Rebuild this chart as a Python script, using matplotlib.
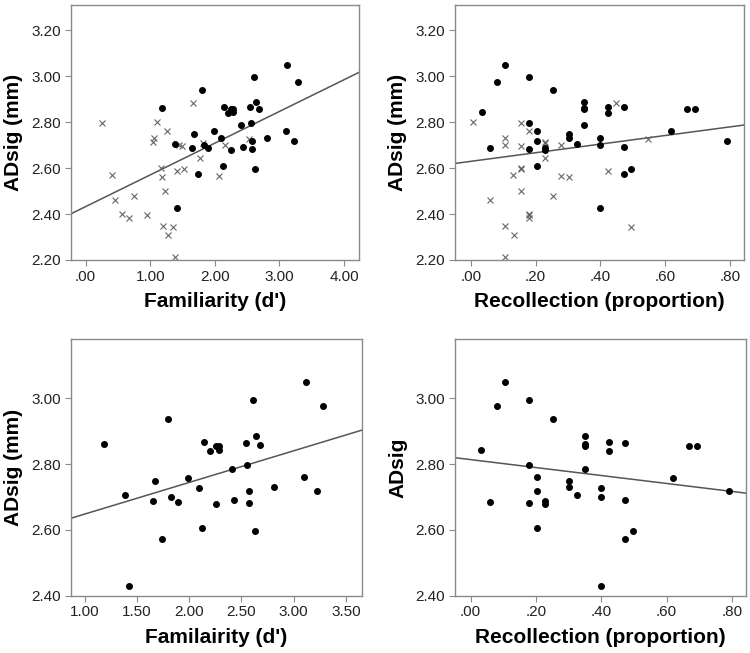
import numpy as np
import matplotlib
matplotlib.use('Agg')
import matplotlib.pyplot as plt

plt.rcParams['font.family'] = ['Liberation Sans', 'DejaVu Sans']

# dots group: familiarity d', recollection proportion, ADsig
fam_dot = [1.185, 1.386, 1.421, 1.65, 1.67, 1.735, 1.80, 1.83, 1.89, 1.99, 2.09,
           2.126, 2.145, 2.20, 2.256, 2.256, 2.288, 2.288, 2.405, 2.43, 2.547,
           2.553, 2.575, 2.572, 2.607, 2.626, 2.642, 2.677, 2.814, 3.098, 3.117,
           3.225, 3.283]
ads_dot_f = [2.86, 2.706, 2.428, 2.688, 2.750, 2.573, 2.939, 2.70, 2.686, 2.759,
             2.729, 2.607, 2.867, 2.839, 2.856, 2.679, 2.855, 2.842, 2.785, 2.692,
             2.864, 2.797, 2.719, 2.682, 2.996, 2.597, 2.886, 2.858, 2.732, 2.762,
             3.049, 2.719, 2.976]

rec_dot = [0.033, 0.058, 0.082, 0.106, 0.180, 0.180, 0.180, 0.204, 0.204, 0.204,
           0.229, 0.229, 0.253, 0.302, 0.302, 0.327, 0.35, 0.35, 0.35, 0.35, 0.40,
           0.40, 0.40, 0.424, 0.424, 0.472, 0.472, 0.472, 0.496, 0.619, 0.667,
           0.692, 0.791]
ads_dot_r = [2.842, 2.686, 2.976, 3.049, 2.996, 2.797, 2.682, 2.762, 2.719, 2.607,
             2.688, 2.679, 2.939, 2.750, 2.732, 2.706, 2.886, 2.860, 2.856, 2.785,
             2.729, 2.70, 2.428, 2.867, 2.839, 2.864, 2.692, 2.573, 2.597, 2.759,
             2.856, 2.856, 2.719]

# crosses group
fam_x = [0.247, 0.407, 0.448, 0.562, 0.665, 0.753, 0.954, 1.036, 1.052, 1.108,
         1.16, 1.19, 1.20, 1.227, 1.253, 1.268, 1.356, 1.376, 1.407, 1.448, 1.49,
         1.52, 1.655, 1.773, 1.809, 2.057, 2.155, 2.526]
ads_x_f = [2.794, 2.571, 2.459, 2.399, 2.384, 2.480, 2.397, 2.712, 2.729, 2.800,
           2.599, 2.559, 2.348, 2.501, 2.762, 2.307, 2.345, 2.214, 2.588, 2.701,
           2.697, 2.597, 2.881, 2.642, 2.710, 2.567, 2.701, 2.725]

rec_x = [0.008, 0.059, 0.107, 0.107, 0.107, 0.107, 0.131, 0.132, 0.155, 0.155,
         0.155, 0.155, 0.155, 0.179, 0.179, 0.179, 0.179, 0.229, 0.229, 0.229,
         0.254, 0.278, 0.278, 0.302, 0.424, 0.449, 0.496, 0.547]
ads_x_r = [2.799, 2.459, 2.729, 2.701, 2.348, 2.214, 2.571, 2.307, 2.794, 2.697,
           2.599, 2.597, 2.501, 2.762, 2.40, 2.397, 2.384, 2.712, 2.710, 2.642,
           2.480, 2.701, 2.567, 2.559, 2.588, 2.881, 2.345, 2.725]

# fit lines (intercept, slope)
fit_fam_all = (2.432, 0.138)
fit_rec_all = (2.629, 0.187)
fit_fam_dot = (2.552, 0.0963)
fit_rec_dot = (2.814, -0.121)

W, H = 750, 653
fig = plt.figure(figsize=(7.5, 6.53), dpi=100)


def make_ax(l, r, t, b):
    return fig.add_axes([l / W, 1 - b / H, (r - l) / W, (b - t) / H])


frame = '#8a8a8a'


def style(ax, xlim, ylim, xticks, xlabels, yticks, xlabel, ylabel):
    ax.set_xlim(*xlim)
    ax.set_ylim(*ylim)
    ax.set_xticks(xticks)
    ax.set_xticklabels(xlabels)
    ax.set_yticks(yticks)
    ax.set_yticklabels(['%.2f' % v for v in yticks])
    for s in ax.spines.values():
        s.set_color(frame)
        s.set_linewidth(1.0)
    ax.tick_params(direction='out', length=4, width=0.8, color=frame,
                   labelsize=11, labelcolor='#222222', pad=3)
    ax.set_xlabel(xlabel, fontsize=15, fontweight='bold', labelpad=6)
    ax.set_ylabel(ylabel, fontsize=15, fontweight='bold', labelpad=6)


def fit_line(ax, fit, xlim):
    xs = np.array(xlim)
    ax.plot(xs, fit[0] + fit[1] * xs, color='#555555', lw=1.1, zorder=1)


dot_kw = dict(marker='o', color='black', markersize=4, linestyle='none', zorder=3)
x_kw = dict(marker='x', color='#666666', markersize=4, mew=0.8, linestyle='none', zorder=2)

# top left
ax1 = make_ax(70.7, 359, 4.7, 260)
xl1 = (-0.23, 4.23)
fit_line(ax1, fit_fam_all, xl1)
ax1.plot(fam_x, ads_x_f, **x_kw)
ax1.plot(fam_dot, ads_dot_f, **dot_kw)
style(ax1, xl1, (2.2, 3.31), [0, 1, 2, 3, 4], ['.00', '1.00', '2.00', '3.00', '4.00'],
      [2.2, 2.4, 2.6, 2.8, 3.0, 3.2], "Familiarity (d')", 'ADsig (mm)')

# top right
ax2 = make_ax(455, 744, 4.7, 260)
xl2 = (-0.049, 0.844)
fit_line(ax2, fit_rec_all, xl2)
ax2.plot(rec_x, ads_x_r, **x_kw)
ax2.plot(rec_dot, ads_dot_r, **dot_kw)
style(ax2, xl2, (2.2, 3.31), [0, 0.2, 0.4, 0.6, 0.8], ['.00', '.20', '.40', '.60', '.80'],
      [2.2, 2.4, 2.6, 2.8, 3.0, 3.2], 'Recollection (proportion)', 'ADsig (mm)')

# bottom left
ax3 = make_ax(70.7, 361.7, 339.3, 595.7)
xl3 = (0.866, 3.65)
fit_line(ax3, fit_fam_dot, xl3)
ax3.plot(fam_dot, ads_dot_f, **dot_kw)
style(ax3, xl3, (2.4, 3.18), [1, 1.5, 2, 2.5, 3, 3.5],
      ['1.00', '1.50', '2.00', '2.50', '3.00', '3.50'],
      [2.4, 2.6, 2.8, 3.0], "Familairity (d')", 'ADsig (mm)')

# bottom right
ax4 = make_ax(455, 746, 339.3, 595.7)
xl4 = (-0.048, 0.843)
fit_line(ax4, fit_rec_dot, xl4)
ax4.plot(rec_dot, ads_dot_r, **dot_kw)
style(ax4, xl4, (2.4, 3.18), [0, 0.2, 0.4, 0.6, 0.8], ['.00', '.20', '.40', '.60', '.80'],
      [2.4, 2.6, 2.8, 3.0], 'Recollection (proportion)', 'ADsig')

fig.savefig('out.png', dpi=100)
